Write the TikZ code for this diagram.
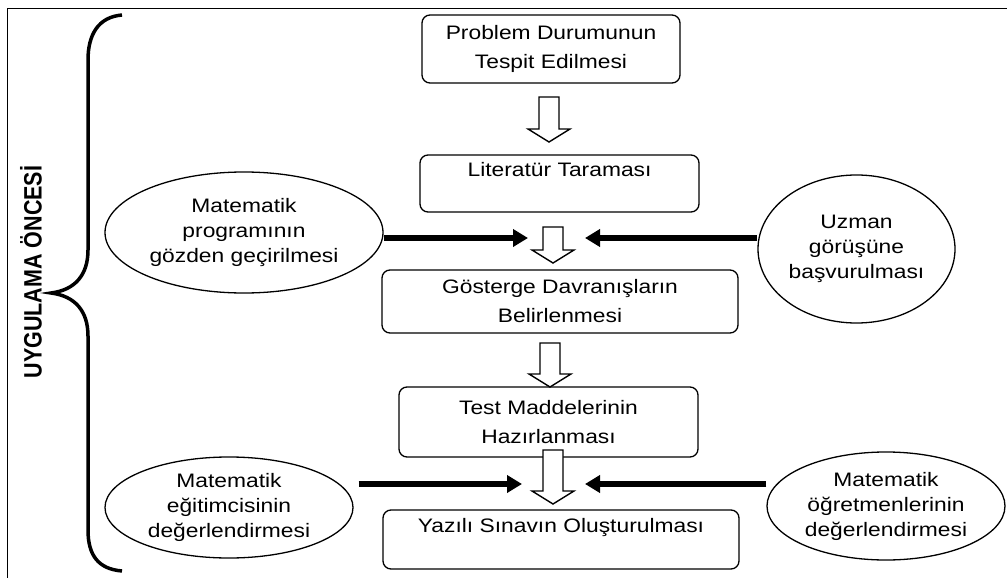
\documentclass[tikz,border=0pt]{standalone}
\usepackage{fontspec}
\usepackage{graphicx}
\setmainfont{Liberation Sans}[FakeStretch=1.17]
\newfontfamily\etiketfont{Liberation Sans}
\usetikzlibrary{shapes.geometric,arrows.meta,calc}

\tikzset{
  adim/.style={draw, rounded corners=8pt, line width=1.3pt, align=center,
    inner sep=0pt, font=\fontsize{19.5}{29}\selectfont},
  kaynak/.style={draw, ellipse, line width=1.3pt, align=center,
    inner sep=0pt, font=\fontsize{19.5}{25}\selectfont},
  kalinok/.style={line width=6.5pt, -{Triangle[length=15pt,width=17pt]}},
}
% hollow block arrow pointing down from #1 to #2
\newcommand{\blokok}[2]{%
  \draw[line width=1.4pt, fill=white, line join=miter]
    ($(#1)+(-10,0)$) -- ($(#2)+(-10,-13)$) -- ($(#2)+(-21,-13)$) -- (#2)
    -- ($(#2)+(21,-13)$) -- ($(#2)+(10,-13)$) -- ($(#1)+(10,0)$) -- cycle;}

\begin{document}
\begin{tikzpicture}[x=1pt,y=-1pt]
        \useasboundingbox (0,0) rectangle (1007,578);
        \draw[line width=0.8pt] (7,578) -- (7,8) -- (1007,8); % frame
        % brace and label
        \draw[line width=3.5pt] (122,15) .. controls (98,17) and (88,35) .. (88,60)
            -- (88,250) .. controls (88,275) and (75,290) .. (51,293)
            .. controls (75,296) and (88,311) .. (88,336)
            -- (88,530) .. controls (88,555) and (98,569) .. (122,571);
        \node[rotate=90, font=\etiketfont\bfseries\fontsize{21.5}{24}\selectfont] (etiket) at (31,272)
            {\scalebox{1}[1.17]{UYGULAMA ÖNCESİ}};
        % steps
        \node[adim, minimum width=258pt, minimum height=68pt] (problem) at (551,49) {Problem Durumunun\\Tespit Edilmesi};
        \node[adim, minimum width=279pt, minimum height=57pt] (literatur) at (559.5,183.5) {Literatür Taraması\\\mbox{}};
        \node[adim, minimum width=356pt, minimum height=63pt] (gosterge) at (560,301.5) {Gösterge Davranışların\\Belirlenmesi};
        \node[adim, minimum width=299pt, minimum height=70pt] (test) at (548.5,422) {Test Maddelerinin\\Hazırlanması};
        \node[adim, minimum width=356pt, minimum height=59pt] (sinav) at (561,539.5) {Yazılı Sınavın Oluşturulması\\\mbox{}};
        % sources
        \node[kaynak, minimum width=278pt, minimum height=121pt] (program) at (244,232.5) {Matematik\\programının\\gözden geçirilmesi};
        \node[kaynak, minimum width=197pt, minimum height=148pt] (uzman) at (856.5,249) {Uzman\\görüşüne\\başvurulması};
        \node[kaynak, minimum width=248pt, minimum height=101pt] (egitimci) at (229,507.5) {Matematik\\eğitimcisinin\\değerlendirmesi};
        \node[kaynak, minimum width=238pt, minimum height=108pt] (ogretmen) at (886,506) {Matematik\\öğretmenlerinin\\değerlendirmesi};
        % hollow arrows between steps
        \foreach \x/\yu/\ya in {549/97/142, 553/227/263, 550/343/387, 553/450/504}{
            \coordinate (ou) at (\x,\yu);
            \coordinate (oa) at (\x,\ya);
            \blokok{ou}{oa}
        }
        % thick arrows
        \coordinate (uc1) at (528,238);
        \coordinate (uc2) at (585,238);
        \coordinate (uc3) at (522,484);
        \coordinate (uc4) at (585,484);
        \draw[kalinok] (uc1 -| program.east) -- (uc1);
        \draw[kalinok] (uc2 -| uzman.west) -- (uc2);
        \draw[kalinok] ([xshift=5pt]uc3 -| egitimci.east) -- (uc3);
        \draw[kalinok] (uc4 -| ogretmen.west) -- (uc4);
\end{tikzpicture}
\end{document}
